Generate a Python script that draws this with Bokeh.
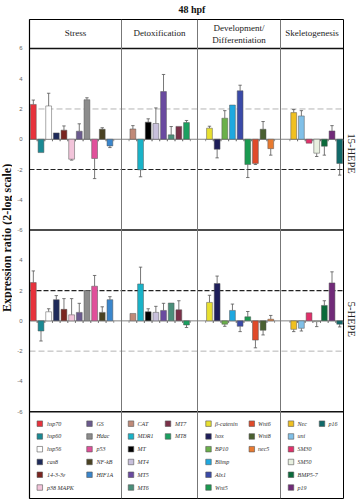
import math
from bokeh.plotting import figure
from bokeh.layouts import row
from bokeh.models import Span, FixedTicker, LinearAxis
from bokeh.embed import file_html
from bokeh.resources import INLINE
from bokeh.core.properties import value

nan = float("nan")

# ---------------- data ----------------
title_text = "48 hpf"
y_label = "Expression ratio (2-log scale)"
panel_names = ["15-HEPE", "5-HEPE"]
y_ticks = [6, 4, 2, 0, -2, -4, -6]

stress_genes = ["hsp70", "hsp60", "hsp56", "cas8", "14-3-3ε", "p38 MAPK",
                "GS", "Hdac", "p53", "NF-kB", "HIF1A"]
stress_colors = ["#e8323c", "#1a8a94", "#ffffff", "#1e2a5a", "#7a2420", "#f2c4da",
                 "#6b5a8e", "#8c8c8c", "#e0509a", "#4a4222", "#3a86cc"]
stress_15 = [2.30, -0.88, 2.20, 0.42, 0.60, -1.32, 0.53, 2.61, -1.27, 0.66, -0.44]
stress_15_err = [2.59, nan, 3.04, nan, 0.88, -1.38, 1.02, 2.74, -2.60, 0.76, -0.55]
stress_5 = [2.53, -0.67, 0.60, 1.40, 0.76, 0.40, 0.56, 2.00, 2.29, 0.56, 1.40]
stress_5_err = [3.30, -1.33, 0.80, 1.67, 1.47, 1.47, 1.16, nan, 3.00, 0.93, 1.60]

detox_genes = ["CAT", "MDR1", "MT", "MT4", "MT5", "MT6", "MT7", "MT8"]
detox_colors = ["#c08a78", "#19b3c8", "#000000", "#c8c0dc", "#6a4aa0", "#4a8f7a",
                "#7a3048", "#1aa060"]
detox_15 = [0.68, -2.02, 1.13, 1.04, 3.15, 0.29, 0.85, 1.10]
detox_15_err = [0.90, -2.48, 1.35, 2.07, 4.28, 0.84, nan, 1.24]
detox_5 = [0.49, 2.44, 0.60, 0.56, 0.69, 1.18, 0.73, -0.27]
detox_5_err = [nan, 3.55, 0.80, 0.96, 1.16, nan, 1.33, -0.44]

dev_genes = ["β-catenin", "hox", "BP10", "Blimp", "Alx1", "Wnt5", "Wnt6", "Wnt8", "nec5"]
dev_colors = ["#e8e030", "#1e1e5a", "#6ab04a", "#1ea8e0", "#3a4aa8", "#1a9a50",
              "#e04a2a", "#4a6030", "#e87a30"]
dev_15 = [0.73, -0.66, 1.39, 2.26, 3.20, -1.67, -1.60, 0.66, -0.62]
dev_15_err = [0.86, -1.23, 1.89, nan, 3.57, -2.53, -1.67, 1.17, -1.05]
dev_5 = [1.22, 2.47, -0.22, 0.69, -0.36, 0.27, -1.27, -0.62, 0.11]
dev_5_err = [1.69, 2.96, -0.36, 1.11, -0.71, 0.62, -1.78, -0.93, 0.36]

skel_genes = ["Nec", "uni", "SM30", "SM50", "BMP5-7", "p19", "p16"]
skel_colors = ["#f0c020", "#80c0e8", "#e0306a", "#e8f0e0", "#0a6a3a", "#702a78", "#106a6a"]
skel_15 = [1.76, 1.54, -0.26, -0.92, -0.46, 0.55, -1.60]
skel_15_err = [1.96, 1.89, nan, -1.14, -1.05, 0.90, -2.37]
skel_5 = [-0.56, -0.49, 0.53, -0.05, 1.02, 2.51, -0.22]
skel_5_err = [-0.71, -0.67, nan, -0.38, 1.33, 3.24, -0.40]

section_names = ["Stress", "Detoxification", "Development/\nDifferentiation", "Skeletogenesis"]

# ---------------- layout ----------------
W, H = 356, 500
LW, RW = 12, 12                 # side strips for the y title / panel names
MW = W - LW - RW                # main figure width
FL, FR, FT, FB = 29, 343, 18, 498   # frame edges in page pixels
X0, X1 = 0.0, 41.0
Y_TOP, Y_BOT = 7.912, -23.736
PXX = (FR - FL) / (X1 - X0)
PXY = (FB - FT) / (Y_TOP - Y_BOT)
Y_PAGE_TOP = Y_TOP + FT / PXY
Y_PAGE_BOT = Y_BOT - (H - FB) / PXY


def sx(px):
    return X0 + (px - FL) / PXX


def sy(py):
    return Y_TOP - (py - FT) / PXY


PANEL_OFF = [0.0, -12.0]
SERIF = "Liberation Serif"

sections = [
    dict(genes=stress_genes, colors=stress_colors, v=[stress_15, stress_5],
         e=[stress_15_err, stress_5_err], start=0.5, lo=sx(29), hi=sx(121),
         sq=(39.3, 89.0), tx=(46.5, 96.0)),
    dict(genes=detox_genes, colors=detox_colors, v=[detox_15, detox_5],
         e=[detox_15_err, detox_5_err], start=13.5, lo=sx(121), hi=sx(197),
         sq=(130.5, 167.5), tx=(137.0, 174.5)),
    dict(genes=dev_genes, colors=dev_colors, v=[dev_15, dev_5],
         e=[dev_15_err, dev_5_err], start=23.5, lo=sx(197), hi=sx(280),
         sq=(208.0, 251.3), tx=(214.5, 257.5)),
    dict(genes=skel_genes, colors=skel_colors, v=[skel_15, skel_5],
         e=[skel_15_err, skel_5_err], start=34.5, lo=sx(280), hi=sx(343),
         sq=(290.5, 321.5), tx=(297.0, 328.0)),
]

p = figure(width=MW, height=H, x_range=(X0, X1), y_range=(Y_BOT, Y_TOP),
           output_backend="svg", toolbar_location=None, x_axis_location=None,
           min_border_left=FL - LW, min_border_right=(LW + MW) - FR,
           min_border_top=FT, min_border_bottom=H - FB)
p.grid.visible = False
p.outline_line_color = "black"
p.outline_line_width = 1
p.background_fill_color = "white"
p.border_fill_color = "white"

# y axis ticks for both panels
ticks = []
overrides = {}
for off in PANEL_OFF:
    for t in y_ticks:
        v = float(t + off)
        if v not in ticks:
            ticks.append(v)
            overrides[v] = str(t) if t >= 0 else "-" + str(abs(t))
overrides[-6.0] = "-6"
p.yaxis.ticker = FixedTicker(ticks=ticks)
p.yaxis.major_label_overrides = overrides
p.yaxis.major_tick_out = 0
p.yaxis.major_tick_in = 0
p.yaxis.minor_tick_out = 0
p.yaxis.minor_tick_in = 0
p.yaxis.axis_line_color = "black"
p.yaxis.axis_line_width = 1.2
p.yaxis.major_label_standoff = 7
p.yaxis.major_label_text_font_size = "6px"
p.yaxis.major_label_text_color = "#666666"
p.yaxis.major_label_text_font = "Liberation Sans"

# top axis carrying the title
tax = LinearAxis(ticker=FixedTicker(ticks=[21.2]),
                 major_label_overrides={21.2: title_text},
                 major_label_orientation="horizontal",
                 major_label_text_font=SERIF, major_label_text_font_size="10px",
                 major_label_text_font_style="bold", major_label_text_color="#111111",
                 major_label_standoff=-1, axis_line_color=None,
                 major_tick_line_color=None, minor_tick_line_color=None)
p.add_layout(tax, "above")

# reference dashed lines
dash_spec = [
    (2 + PANEL_OFF[0], "#b4b4b4", "6 3", 1.0),
    (-2 + PANEL_OFF[0], "#222222", "5 2", 1.2),
    (2 + PANEL_OFF[1], "#222222", "5 2", 1.2),
    (-2 + PANEL_OFF[1], "#b4b4b4", "6 3", 1.0),
]
for loc, col, dash, lw in dash_spec:
    p.add_layout(Span(location=loc, dimension="width", line_color=col,
                      line_dash=dash, line_width=lw, level="underlay"))

# zero lines
for off in PANEL_OFF:
    p.add_layout(Span(location=off, dimension="width", line_color="#666666",
                      line_width=0.8, level="underlay"))

# bars
bx, btop, bbot, bcol = [], [], [], []
ex, ey0, ey1 = [], [], []
tx_, ty0, ty1 = [], [], []
for s in sections:
    for i, g in enumerate(s["genes"]):
        x = s["start"] + i
        for pi, off in enumerate(PANEL_OFF):
            val = s["v"][pi][i]
            err = s["e"][pi][i]
            bx.append(x)
            btop.append(val + off)
            bbot.append(off)
            bcol.append(s["colors"][i])
            if not math.isnan(err):
                ex.append(x)
                ey0.append(val + off)
                ey1.append(err + off)
            for dx in (-0.5, 0.5):
                tx_.append(x + dx)
                ty0.append(off)
                ty1.append(off - 0.13)

p.segment(x0=tx_, y0=ty0, x1=tx_, y1=ty1, line_color="#666666", line_width=0.7)
p.segment(x0=ex, y0=ey0, x1=ex, y1=ey1, line_color="#555555", line_width=0.8)
p.segment(x0=[x - 0.22 for x in ex], y0=ey1, x1=[x + 0.22 for x in ex], y1=ey1,
          line_color="#555555", line_width=0.8)
p.vbar(x=bx, width=0.76, top=btop, bottom=bbot, fill_color=bcol,
       line_color="#555555", line_width=0.5)

# structural lines
for loc in (6.0, -6.0, -18.0):
    p.add_layout(Span(location=loc, dimension="width", line_color="#111111",
                      line_width=1.5))
for s in sections[1:]:
    p.add_layout(Span(location=s["lo"], dimension="height", line_color="#777777",
                      line_width=1))

# header texts
hx, hy, ht = [], [], []
for s, name in zip(sections, section_names):
    cx = (s["lo"] + s["hi"]) / 2
    lines = name.split("\n")
    if len(lines) == 1:
        hx.append(cx); hy.append(sy(32)); ht.append(lines[0])
    else:
        hx += [cx, cx]; hy += [sy(27), sy(38.5)]; ht += lines
p.text(x=hx, y=hy, text=ht, text_align="center", text_baseline="middle",
       text_font=value(SERIF), text_font_size="9px", text_color="#222222")

# legend
rows_px = [423, 435.8, 448.6, 461.4, 474.2, 487]
lx, ly, lc, ltx, lty, ltt = [], [], [], [], [], []
for s in sections:
    for i, g in enumerate(s["genes"]):
        col = 0 if i < 6 else 1
        r = i if i < 6 else i - 6
        lx.append(sx(s["sq"][col])); ly.append(sy(rows_px[r])); lc.append(s["colors"][i])
        ltx.append(sx(s["tx"][col])); lty.append(sy(rows_px[r])); ltt.append(g)
p.scatter(x=lx, y=ly, marker="square", size=5.5, fill_color=lc,
          line_color="#555555", line_width=0.6)
p.text(x=ltx, y=lty, text=ltt, text_align="left", text_baseline="middle",
       text_font=value(SERIF), text_font_size="6px", text_font_style="italic",
       text_color="#333333")


# ---- side strips (same vertical scale as the main figure) ----
def strip(width):
    f = figure(width=width, height=H, x_range=(0, 1),
               y_range=(Y_PAGE_BOT, Y_PAGE_TOP), output_backend="svg",
               toolbar_location=None, x_axis_location=None, y_axis_location=None,
               min_border=0, min_border_left=0, min_border_right=0,
               min_border_top=0, min_border_bottom=0)
    f.grid.visible = False
    f.outline_line_color = None
    f.background_fill_color = "white"
    f.border_fill_color = "white"
    return f


left = strip(LW)
left.text(x=[0.5], y=[sy(228)], text=[y_label], angle=math.pi / 2,
          text_align="center", text_baseline="middle", text_font=value(SERIF),
          text_font_size="12px", text_font_style="bold", text_color="#111111")

right = strip(RW)
right.text(x=[0.55, 0.55], y=[sy(140), sy(313)], text=panel_names, angle=-math.pi / 2,
           text_align="center", text_baseline="middle", text_font=value(SERIF),
           text_font_size="10.5px", text_color="#222222")

layout = row(left, p, right, spacing=0)
open("out.html", "w").write(file_html(layout, INLINE))
